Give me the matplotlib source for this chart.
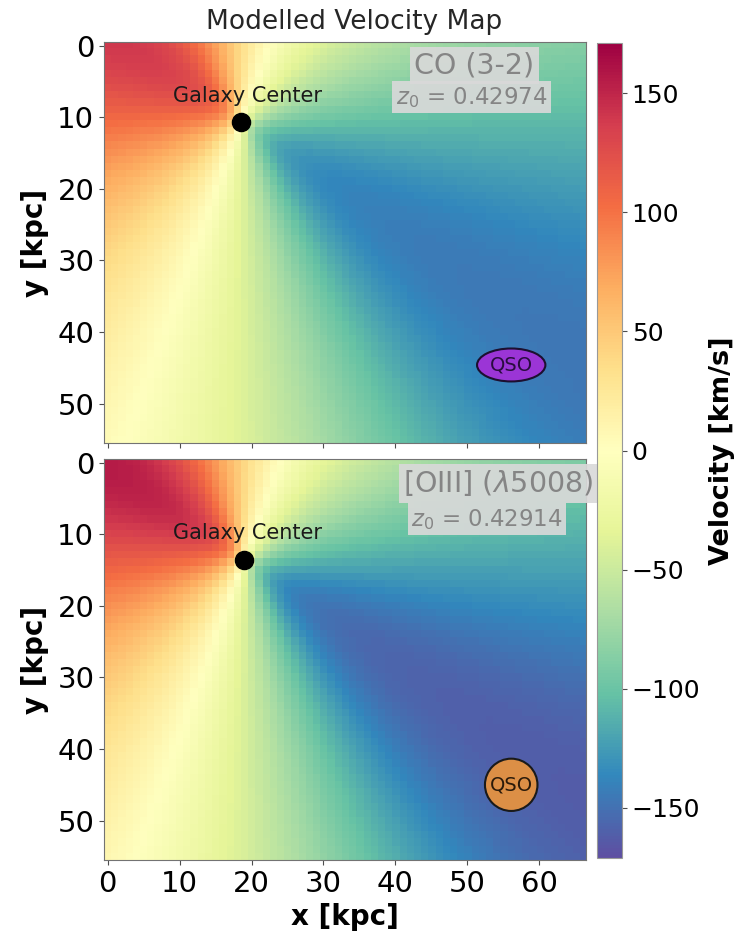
import numpy as np
import matplotlib
matplotlib.use("Agg")
import matplotlib.pyplot as plt
from matplotlib.patches import Ellipse, Circle

# map size in pixels (1 pixel = 1 kpc)
nx, ny = 67, 56

# one entry per panel: CO (3-2) on top, [OIII] below
lines = ['CO (3-2)', r'[OIII] ($\lambda$5008)']
redshifts = ['0.42974', '0.42914']
center_x = [18.5, 18.9]
center_y = [10.7, 13.6]
vmax = [150.0, 166.0]      # km/s, flat part of rotation curve
r_turn = [2.2, 2.2]        # kpc
pos_angle = [44.0, 44.0]   # deg, image frame
incl = [53.0, 53.0]        # deg
twist = [-15.0, -15.0]     # deg, kinematic twist in disk plane
qso_x = [56.1, 56.1]
qso_y = [44.6, 45.0]

vlim = 171
cbar_ticks = [-150, -100, -50, 0, 50, 100, 150]


def model_map(k):
    yy, xx = np.mgrid[0:ny, 0:nx].astype(float)
    dx = xx - center_x[k]
    dy = yy - center_y[k]
    pa = np.radians(pos_angle[k])
    ci = np.cos(np.radians(incl[k]))
    xd = dx * np.cos(pa) + dy * np.sin(pa)
    yd = (-dx * np.sin(pa) + dy * np.cos(pa)) / ci
    r = np.hypot(xd, yd)
    phi = np.arctan2(yd, xd)
    vrot = vmax[k] * 2 / np.pi * np.arctan(r / r_turn[k])
    return -vrot * np.cos(phi - np.radians(twist[k]))


fig = plt.figure(figsize=(7.42, 9.4), dpi=100)
ax1 = fig.add_axes([0.1402, 0.5287, 0.6496, 0.4266])
ax2 = fig.add_axes([0.1402, 0.0851, 0.6496, 0.4266])
cax = fig.add_axes([0.8046, 0.0872, 0.0337, 0.867])
axes = [ax1, ax2]

# text placement (data coords)
name_xy = [(51.0, 2.8), (54.3, 2.9)]
z_xy = [(50.6, 7.2), (52.7, 7.9)]
gc_xy = [(19.4, 7.0), (19.4, 9.9)]

for k, ax in enumerate(axes):
    im = ax.imshow(model_map(k), cmap='Spectral_r', vmin=-vlim, vmax=vlim,
                   aspect='auto', interpolation='nearest')
    ax.set_xticks(range(0, 61, 10))
    ax.set_yticks(range(0, 51, 10))
    ax.tick_params(labelsize=21, color='0.3')
    for s in ax.spines.values():
        s.set_color('0.45')
        s.set_linewidth(0.8)
    ax.set_ylabel('y [kpc]', fontsize=20, fontweight='bold', labelpad=6)

    ax.scatter(center_x[k], center_y[k], s=170, color='black', zorder=5)
    ax.text(gc_xy[k][0], gc_xy[k][1], 'Galaxy Center', fontsize=15,
            color='#1a1a1a', ha='center', va='center')

    box = dict(boxstyle='square,pad=0.15', facecolor='#d9d9d9',
               edgecolor='none', alpha=0.92)
    ax.text(name_xy[k][0], name_xy[k][1], lines[k], fontsize=20.5,
            color='#858585', ha='center', va='center', bbox=box)
    ax.text(z_xy[k][0], z_xy[k][1], r'$z_0$ = ' + redshifts[k], fontsize=16.5,
            color='#858585', ha='center', va='center', bbox=box)

# QSO markers
ax1.add_patch(Ellipse((qso_x[0], qso_y[0]), 9.5, 4.6, facecolor='#9b35d6',
                      edgecolor='#1c1030', lw=1.5, zorder=6))
ax2.add_patch(Circle((qso_x[1], qso_y[1]), 3.65, facecolor='#dc8f46',
                     edgecolor='#1a1a1a', lw=1.5, zorder=6))
ax1.text(qso_x[0], qso_y[0], 'QSO', fontsize=14, color='#2a0c40',
         ha='center', va='center', zorder=7)
ax2.text(qso_x[1], qso_y[1], 'QSO', fontsize=14, color='#2a1a0a',
         ha='center', va='center', zorder=7)

ax1.tick_params(labelbottom=False)
ax2.set_xlabel('x [kpc]', fontsize=20, fontweight='bold')

cb = fig.colorbar(im, cax=cax, ticks=cbar_ticks)
cb.ax.tick_params(labelsize=18, color='0.3')
cb.outline.set_edgecolor('0.6')
cb.outline.set_linewidth(0.8)
cb.set_label('Velocity [km/s]', fontsize=19.5, fontweight='bold', labelpad=6)

fig.text(0.477, 0.977, 'Modelled Velocity Map', fontsize=19, color='#262626',
         ha='center', va='center')

fig.savefig('out.png', dpi=100)
